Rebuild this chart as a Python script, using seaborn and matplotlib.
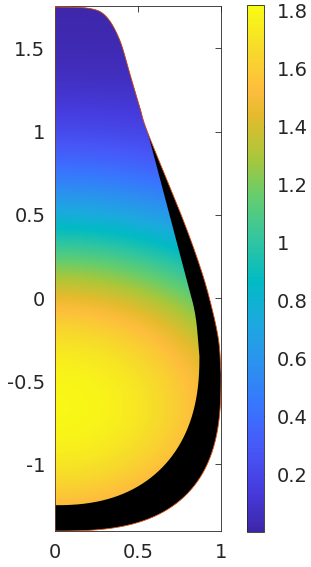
import numpy as np
import matplotlib
matplotlib.use("Agg")
import matplotlib.pyplot as plt
from matplotlib.colors import LinearSegmentedColormap
from matplotlib.path import Path
from matplotlib.patches import PathPatch
import seaborn as sns

# outer boundary, upper part, from top-left going round
outer_top_x = [0.0, 0.21, 0.31, 0.39, 0.45, 0.51, 0.56, 0.76, 0.87, 0.935, 0.985, 1.0]
outer_top_y = [1.75, 1.74, 1.69, 1.55, 1.35, 1.15, 0.99, 0.50, 0.20, -0.02, -0.25, -0.45]
# inner edge of the black band, upper part
inner_top_x = [0.56, 0.675, 0.79, 0.845, 0.87]
inner_top_y = [0.99, 0.555, 0.12, -0.10, -0.35]
# lower parts are superellipses: centre y, half width, half height, exponent
outer_low = [-0.45, 1.0, 0.95, 2.8]
inner_low = [-0.35, 0.87, 0.895, 2.35]
# colour field: peak value, centre y, x stretch, radius, exponent
field_peak = 1.8
field_y0 = -0.65
field_xscale = 1.45
field_radius = 1.22
field_exp = 2.43

cbar_ticks = [0.2, 0.4, 0.6, 0.8, 1.0, 1.2, 1.4, 1.6, 1.8]
cbar_labels = ["0.2", "0.4", "0.6", "0.8", "1", "1.2", "1.4", "1.6", "1.8"]
x_ticks = [0, 0.5, 1]
x_labels = ["0", "0.5", "1"]
y_ticks = [-1, -0.5, 0, 0.5, 1, 1.5]
y_labels = ["-1", "-0.5", "0", "0.5", "1", "1.5"]

# parula-like colour map
parula = LinearSegmentedColormap.from_list("parula", [
    (0.000, (0.2422, 0.1504, 0.6603)),
    (0.079, (0.2751, 0.2342, 0.8710)),
    (0.159, (0.2795, 0.3447, 0.9717)),
    (0.238, (0.2206, 0.4603, 0.9973)),
    (0.317, (0.1687, 0.5703, 0.9359)),
    (0.397, (0.1113, 0.6635, 0.8763)),
    (0.476, (0.0067, 0.7312, 0.7660)),
    (0.556, (0.1938, 0.7758, 0.6251)),
    (0.635, (0.3909, 0.8029, 0.4354)),
    (0.714, (0.6720, 0.7793, 0.2227)),
    (0.794, (0.9035, 0.7330, 0.1774)),
    (0.841, (0.9956, 0.7434, 0.2371)),
    (0.921, (0.9676, 0.8639, 0.1643)),
    (1.000, (0.9769, 0.9839, 0.0805)),
])


def catmull(xs, ys, n=24):
    pts = np.column_stack([xs, ys])
    pts = np.vstack([2 * pts[0] - pts[1], pts, 2 * pts[-1] - pts[-2]])
    out = []
    t = np.linspace(0, 1, n, endpoint=False)[:, None]
    for i in range(1, len(pts) - 2):
        p0, p1, p2, p3 = pts[i - 1], pts[i], pts[i + 1], pts[i + 2]
        seg = 0.5 * ((2 * p1) + (-p0 + p2) * t + (2 * p0 - 5 * p1 + 4 * p2 - p3) * t ** 2
                     + (-p0 + 3 * p1 - 3 * p2 + p3) * t ** 3)
        out.append(seg)
    out.append(pts[-2][None, :])
    return np.vstack(out)


def superellipse(yc, a, b, p, n=200):
    t = np.linspace(0, np.pi / 2, n)
    return np.column_stack([a * np.cos(t) ** (2 / p), yc - b * np.sin(t) ** (2 / p)])


sns.set_style("white")
plt.rcParams["font.family"] = ["DejaVu Sans"]
plt.rcParams["axes.unicode_minus"] = False

fig = plt.figure(figsize=(3.11, 5.67), dpi=100)
ax = fig.add_axes([55 / 311, 36 / 567, 166 / 311, 525 / 567])
cax = fig.add_axes([247 / 311, 35 / 567, 17 / 311, 527 / 567])

outer_up = catmull(outer_top_x, outer_top_y)
outer = np.vstack([outer_up, superellipse(*outer_low), [[0.0, outer_top_y[0]]]])
k = outer_top_y.index(inner_top_y[0]) * 24
inner = np.vstack([outer_up[:k], catmull(inner_top_x, inner_top_y),
                   superellipse(*inner_low), [[0.0, outer_top_y[0]]]])

ax.add_patch(PathPatch(Path(outer), facecolor="black", edgecolor="none", zorder=1))

gx = np.linspace(0, 1, 400)
gy = np.linspace(-1.41, 1.76, 1200)
X, Y = np.meshgrid(gx, gy)
R = np.sqrt((X / field_xscale) ** 2 + (Y - field_y0) ** 2)
Z = field_peak * np.exp(-(R / field_radius) ** field_exp)
im = ax.imshow(Z, extent=[0, 1, -1.41, 1.76], origin="lower", cmap=parula,
               vmin=0, vmax=1.82, aspect="auto", interpolation="bilinear", zorder=2)
im.set_clip_path(PathPatch(Path(inner), transform=ax.transData))

ax.plot(outer[:, 0], outer[:, 1], color="#d95319", lw=0.6, zorder=3)

ax.set_xlim(0, 1)
ax.set_ylim(-1.40, 1.755)
ax.set_xticks(x_ticks, x_labels)
ax.set_yticks(y_ticks, y_labels)
ax.tick_params(direction="in", top=True, right=True, length=4, width=0.6,
               colors="#262626", labelsize=14)
ax.tick_params(axis="x", pad=9)
ax.tick_params(axis="y", pad=7)
for s in ax.spines.values():
    s.set_color("#262626")
    s.set_linewidth(0.6)

cb = fig.colorbar(im, cax=cax, ticks=cbar_ticks)
cb.ax.set_yticklabels(cbar_labels)
cb.outline.set_linewidth(0.6)
cb.outline.set_edgecolor("#262626")
cax.tick_params(direction="in", length=4, width=0.6, colors="#262626",
                labelsize=14, pad=9)

fig.savefig("out.png", dpi=100)
